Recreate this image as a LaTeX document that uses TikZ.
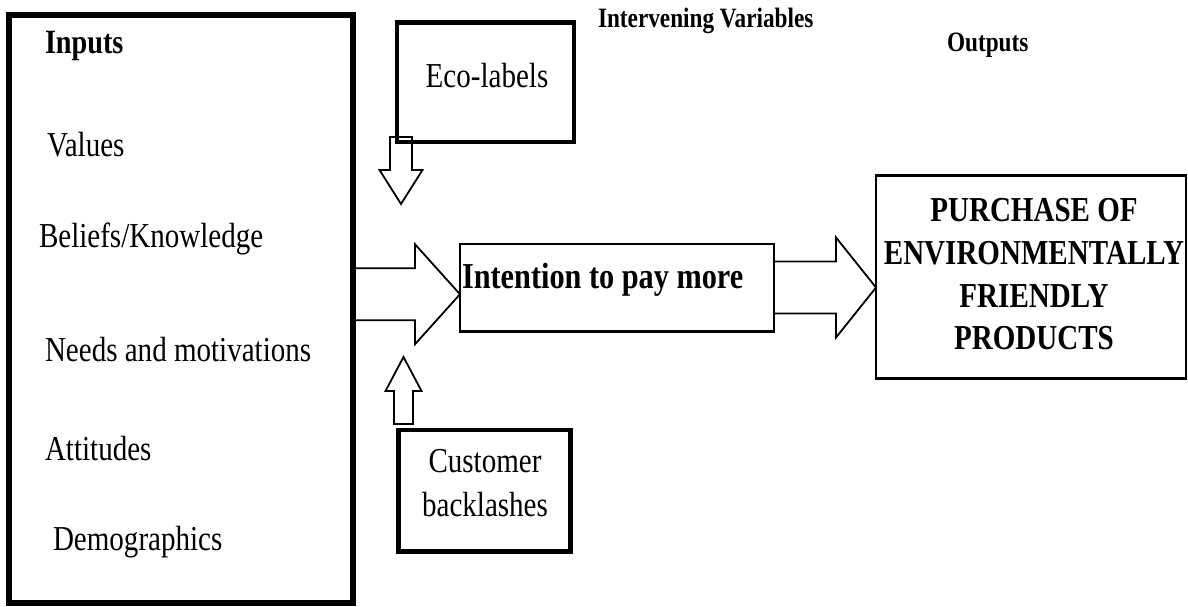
\documentclass[tikz,border=0pt]{standalone}
\usepackage{fontspec}
\setmainfont{Liberation Serif}[FakeStretch=0.83]
\usetikzlibrary{calc}

\begin{document}
\begin{tikzpicture}[x=1pt,y=-1pt]
  \tikzset{BoxStyle/.style = {
    shape         = rectangle,
    draw          = black,
    line width    = 2.5pt,
    inner sep     = 0pt,
    outer sep     = 0pt
    }
  }
  \tikzset{TextStyle/.style = {
    inner sep     = 0pt,
    outer sep     = 0pt,
    text          = black,
    font          = \fontsize{35}{43}\selectfont
    }
  }
  \tikzset{HeadStyle/.style = {
    inner sep     = 0pt,
    outer sep     = 0pt,
    text          = black,
    font          = \fontsize{28}{34}\selectfont\bfseries
    }
  }
  \tikzset{ArrowStyle/.style = {
    draw          = black,
    line width    = 1.8pt,
    line join     = miter
    }
  }

  \useasboundingbox (0,0) rectangle (1188,607);

  % boxes
  \node[BoxStyle, line width=6pt, minimum width=344.5pt, minimum height=587.5pt](inputs) at (180.75, 309.25) {};
  \node[BoxStyle, line width=4.5pt, minimum width=177pt, minimum height=119.5pt](eco) at (485.5, 82.25) {};
  \node[BoxStyle, line width=4.5pt, minimum width=172pt, minimum height=121.5pt](cust) at (484.5, 490.75) {};
  \node[BoxStyle, minimum width=314pt, minimum height=87.5pt](intent) at (617, 287.75) {};
  \node[BoxStyle, minimum width=310pt, minimum height=203pt](purch) at (1031, 277) {};

  % texts
  \node[HeadStyle, anchor=base west](interv) at (598, 28) {Intervening Variables};
  \node[HeadStyle, anchor=base west](outputs) at (947, 52) {Outputs};
  \node[TextStyle, anchor=base west, font=\fontsize{34}{40}\selectfont\bfseries](tinputs) at (45, 54) {Inputs};
  \node[TextStyle, anchor=base west](values) at (47, 157) {Values};
  \node[TextStyle, anchor=base west](beliefs) at (39, 247) {Beliefs/Knowledge};
  \node[TextStyle, anchor=base west](needs) at (45, 361) {Needs and motivations};
  \node[TextStyle, anchor=base west](attit) at (45, 460) {Attitudes};
  \node[TextStyle, anchor=base west](demog) at (53, 550) {Demographics};
  \node[TextStyle, anchor=base](teco) at (487, 88) {Eco-labels};
  \node[TextStyle, align=center, font=\fontsize{35}{44}\selectfont](tcust) at (485, 483.5) {Customer\\backlashes};
  \node[TextStyle, anchor=base west, font=\fontsize{36.5}{43}\selectfont\bfseries](tintent) at (462, 288) {Intention to pay more};
  \node[TextStyle, align=center, font=\fontsize{35}{42.7}\selectfont\bfseries](tpurch) at (1034, 274.5)
    {PURCHASE OF\\ENVIRONMENTALLY\\FRIENDLY\\PRODUCTS};

  % block arrows
  \coordinate (a1tip) at ($(intent.west)+(0,6.5)$);
  \coordinate (a1tail) at (inputs.east |- a1tip);
  \draw[ArrowStyle] ($(a1tail)+(0,-26)$) -- ($(a1tip)+(-45,-26)$) -- ($(a1tip)+(-45,-50)$) -- (a1tip)
    -- ($(a1tip)+(-45,50)$) -- ($(a1tip)+(-45,26)$) -- ($(a1tail)+(0,26)$);

  \coordinate (a2tip) at ($(purch.west)+(0,10.5)$);
  \coordinate (a2tail) at (intent.east |- a2tip);
  \draw[ArrowStyle] ($(a2tail)+(0,-26)$) -- ($(a2tip)+(-40,-26)$) -- ($(a2tip)+(-40,-50)$) -- (a2tip)
    -- ($(a2tip)+(-40,50)$) -- ($(a2tip)+(-40,26)$) -- ($(a2tail)+(0,26)$);

  \coordinate (a3top) at ($(eco.south west)+(4,-5)$);
  \coordinate (a3tip) at ($(a3top)+(0,67)$);
  \draw[ArrowStyle] ($(a3top)+(-11,0)$) -- ($(a3tip)+(-11,-34)$) -- ($(a3tip)+(-21.5,-34)$) -- (a3tip)
    -- ($(a3tip)+(21.5,-34)$) -- ($(a3tip)+(11,-34)$) -- ($(a3top)+(11,0)$) -- cycle;

  \coordinate (a4bot) at ($(cust.north west)+(5,-6)$);
  \coordinate (a4tip) at ($(a4bot)+(0,-67)$);
  \draw[ArrowStyle] ($(a4bot)+(-9.5,0)$) -- ($(a4tip)+(-9.5,34)$) -- ($(a4tip)+(-18,34)$) -- (a4tip)
    -- ($(a4tip)+(18,34)$) -- ($(a4tip)+(9.5,34)$) -- ($(a4bot)+(9.5,0)$) -- cycle;

\end{tikzpicture}
\end{document}
